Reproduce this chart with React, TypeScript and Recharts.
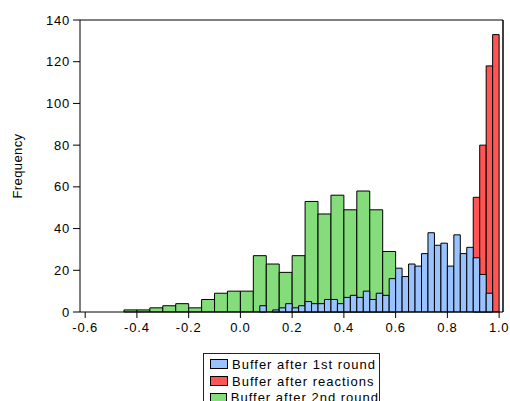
import React from "react";
import {
  ComposedChart,
  ReferenceArea,
  XAxis,
  YAxis,
} from "recharts";

// histogram bins (left edge of each bin) and counts
const greenBinWidth = 0.05;
const greenBinStarts = [
  -0.45, -0.4, -0.35, -0.3, -0.25, -0.2, -0.15, -0.1, -0.05, 0, 0.05, 0.1,
  0.15, 0.2, 0.25, 0.3, 0.35, 0.4, 0.45, 0.5, 0.55,
];
const greenCounts = [
  1, 1, 2, 3, 4, 2, 6, 9, 10, 10, 27, 23, 19, 27, 53, 47, 56, 49, 58, 49, 29,
];

const redBinWidth = 0.025;
const redBinStarts = [0.9, 0.925, 0.95, 0.975];
const redCounts = [55, 80, 118, 133];

const blueBinWidth = 0.025;
const blueBinStarts = [
  0.075, 0.1, 0.125, 0.15, 0.175, 0.2, 0.225, 0.25, 0.275, 0.3, 0.325, 0.35,
  0.375, 0.4, 0.425, 0.45, 0.475, 0.5, 0.525, 0.55, 0.575, 0.6, 0.625, 0.65,
  0.675, 0.7, 0.725, 0.75, 0.775, 0.8, 0.825, 0.85, 0.875, 0.9, 0.925, 0.95,
];
const blueCounts = [
  3, 0, 1, 2, 4, 2, 3, 5, 4, 4, 6, 6, 4, 7, 8, 7, 10, 6, 9, 8, 16, 21, 17, 23,
  22, 28, 38, 32, 33, 22, 37, 28, 31, 26, 18, 9,
];

const xTicks = [-0.6, -0.4, -0.2, 0.0, 0.2, 0.4, 0.6, 0.8, 1.0];
const yTicks = [0, 20, 40, 60, 80, 100, 120, 140];

const seriesNames = [
  "Buffer after 1st round",
  "Buffer after reactions",
  "Buffer after 2nd round",
];
const BLUE = "#99c2ff";
const RED = "#ff5555";
const GREEN = "#84dc7a";
const seriesColors = [BLUE, RED, GREEN];

const font = "'Liberation Sans', Arial, sans-serif";
const tickStyle = { fontSize: 13, fill: "#000", letterSpacing: 0.8 };

const bars = (starts: number[], counts: number[], width: number, color: string, key: string) =>
  starts
    .map((s, i) => ({ s, c: counts[i] }))
    .filter((b) => b.c > 0)
    .map((b) => (
      <ReferenceArea
        key={`${key}-${b.s}`}
        x1={b.s}
        x2={b.s + width}
        y1={0}
        y2={b.c}
        fill={color}
        fillOpacity={1}
        stroke="#000"
        strokeWidth={1}
        ifOverflow="visible"
      />
    ));

export default function App() {
  return (
    <div
      style={{
        position: "relative",
        width: 510,
        height: 401,
        overflow: "hidden",
        fontFamily: font,
      }}
    >
      <style>{"body { margin: 0; }"}</style>
      <ComposedChart
        width={510}
        height={401}
        margin={{ top: 19, right: 6, bottom: 59, left: 12 }}
        style={{ fontFamily: font }}
      >
        <XAxis
          type="number"
          dataKey="x"
          domain={[-0.62, 1.015]}
          allowDataOverflow
          ticks={xTicks}
          tickFormatter={(v: number) => v.toFixed(1)}
          tick={tickStyle}
          tickSize={6}
          tickMargin={5}
          height={30}
          stroke="#000"
        />
        <XAxis
          xAxisId="top"
          orientation="top"
          type="number"
          domain={[-0.62, 1.015]}
          allowDataOverflow
          ticks={xTicks}
          tick={false}
          tickLine={false}
          height={1}
          stroke="#000"
        />
        <YAxis
          type="number"
          domain={[0, 140]}
          allowDataOverflow
          ticks={yTicks}
          tick={tickStyle}
          tickSize={7}
          tickMargin={3}
          width={68}
          stroke="#000"
          label={{
            value: "Frequency",
            angle: -90,
            position: "insideLeft",
            offset: 5,
            style: { textAnchor: "middle", fontSize: 13, fill: "#000", letterSpacing: 0.4 },
          }}
        />
        <YAxis
          yAxisId="right"
          orientation="right"
          type="number"
          domain={[0, 140]}
          allowDataOverflow
          ticks={yTicks}
          tick={false}
          tickLine={false}
          width={1}
          stroke="#000"
          strokeWidth={1.5}
        />
        {bars(greenBinStarts, greenCounts, greenBinWidth, GREEN, "g")}
        {bars(redBinStarts, redCounts, redBinWidth, RED, "r")}
        {bars(blueBinStarts, blueCounts, blueBinWidth, BLUE, "b")}
      </ComposedChart>
      <div
        style={{
          position: "absolute",
          left: 203,
          top: 353,
          width: 177,
          paddingTop: 2,
          paddingBottom: 4,
          border: "1px solid #222",
          background: "#fff",
          boxSizing: "border-box",
        }}
      >
        {seriesNames.map((name, i) => (
          <div
            key={name}
            style={{
              display: "flex",
              alignItems: "center",
              height: 16.7,
              paddingLeft: 6,
              fontSize: 13,
              letterSpacing: 1,
              color: "#000",
              whiteSpace: "nowrap",
            }}
          >
            <span
              style={{
                display: "inline-block",
                width: 18,
                height: 10,
                background: seriesColors[i],
                border: "1px solid #000",
                boxSizing: "border-box",
                marginRight: 4,
              }}
            />
            {name}
          </div>
        ))}
      </div>
    </div>
  );
}
